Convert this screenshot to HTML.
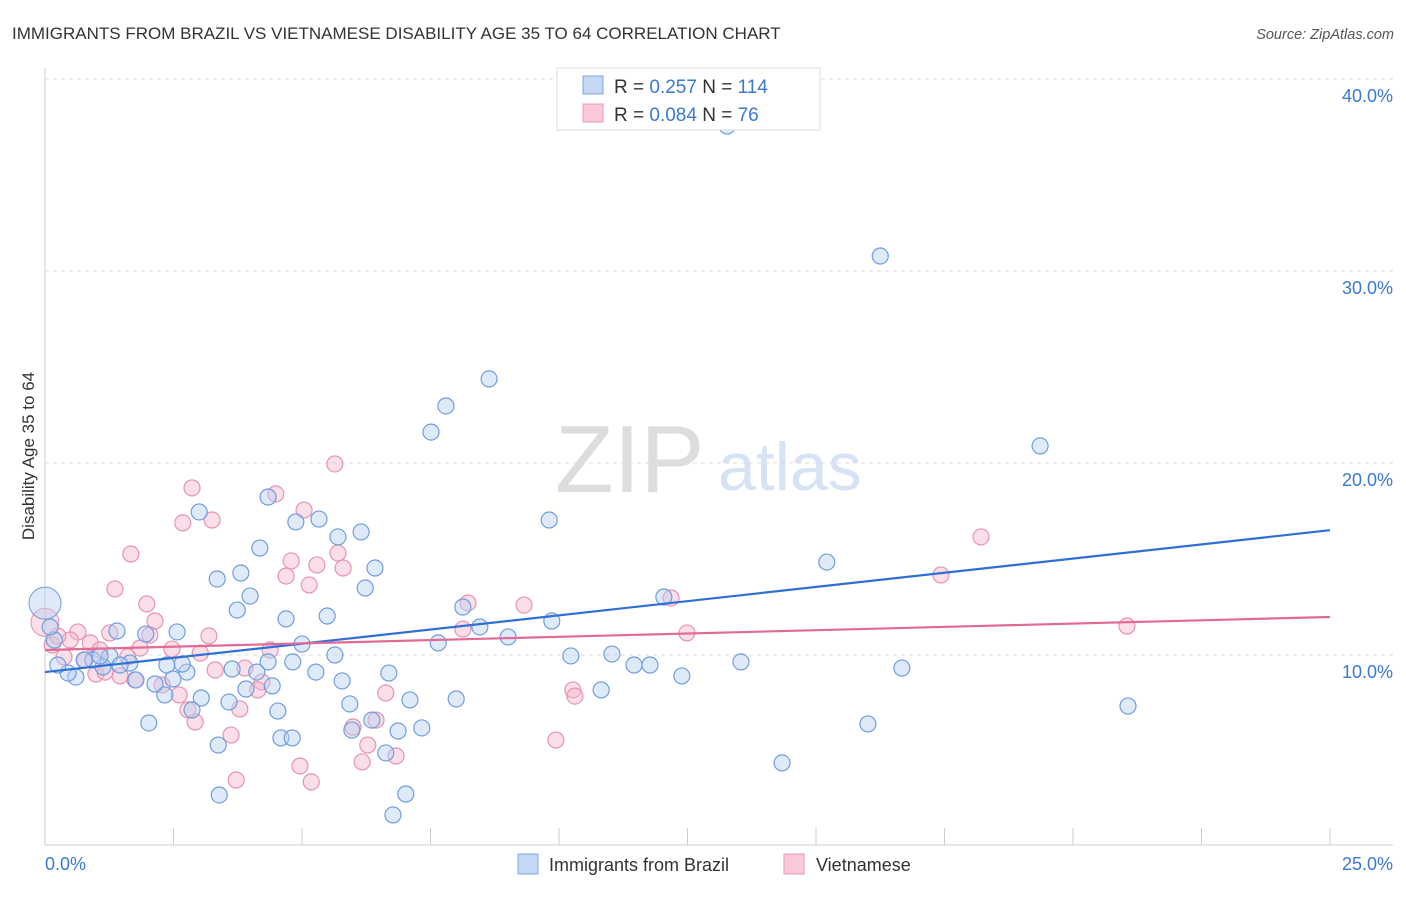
<!DOCTYPE html>
<html><head><meta charset="utf-8"><style>
body{margin:0;background:#fff;font-family:"Liberation Sans",sans-serif;}
svg text{font-family:"Liberation Sans",sans-serif;}
</style></head><body>
<svg id="chart" width="1406" height="892" viewBox="0 0 1406 892">
<text x="12" y="39" font-size="17" fill="#333">IMMIGRANTS FROM BRAZIL VS VIETNAMESE DISABILITY AGE 35 TO 64 CORRELATION CHART</text>
<text x="1394" y="39" font-size="14.5" fill="#555" font-style="italic" text-anchor="end">Source: ZipAtlas.com</text>
<text x="34" y="456" font-size="17" fill="#333" text-anchor="middle" transform="rotate(-90 34 456)">Disability Age 35 to 64</text>
<text x="555" y="492" font-size="96" fill="#ddd" font-family="Liberation Serif">ZIP</text>
<text x="718" y="490" font-size="68" fill="#d6e3f5">atlas</text>
<g id="grid"></g><g id="axes"></g><g id="pink"></g><g id="blue"></g><g id="lines"></g>
<g>
<rect x="557" y="68" width="263" height="62" fill="#fff" stroke="#ddd"/>
<rect x="583" y="76" width="20" height="18" fill="#c5d8f5" stroke="#7ea6e0"/>
<rect x="583" y="104" width="20" height="18" fill="#f9c9d8" stroke="#e999b5"/>
<text x="614" y="93" font-size="19" fill="#333">R = <tspan fill="#3a78d6"> 0.257</tspan>   N = <tspan fill="#3a78d6">114</tspan></text>
<text x="614" y="121" font-size="19" fill="#333">R = <tspan fill="#3a78d6">0.084</tspan>   N = <tspan fill="#3a78d6">  76</tspan></text>
</g>
<g>
<rect x="518" y="854" width="20" height="20" fill="#c5d8f5" stroke="#7ea6e0"/>
<text x="549" y="871" font-size="18" fill="#333">Immigrants from Brazil</text>
<rect x="784" y="854" width="20" height="20" fill="#f9c9d8" stroke="#e999b5"/>
<text x="816" y="871" font-size="18" fill="#333">Vietnamese</text>
</g>
</svg>
<script>
const yTicks=[10,20,30,40];
const yTickLabels=["10.0%","20.0%","30.0%","40.0%"];
const xTickCount=10;
const xLabels=["0.0%","25.0%"];
const blueX=[13.27,16.25,8.64,7.80,7.51,19.36,9.81,3.00,4.34,4.88,5.33,6.15,5.70,4.18,6.42,3.81,3.35,3.99,6.23,3.74,4.69,5.49,8.13,8.46,9.86,12.04,15.21,9.01,7.65,5.00,5.64,10.23,11.03,11.46,11.77,13.54,12.39,16.67,10.82,8.00,7.10,6.69,5.78,5.93,5.27,4.82,4.34,4.12,4.42,3.91,3.64,3.58,3.04,2.76,2.67,2.37,2.49,2.33,2.14,2.57,1.96,1.40,1.26,1.65,1.77,1.13,0.93,0.76,0.60,0.45,0.25,0.18,0.10,2.02,3.37,4.53,4.59,4.81,5.97,6.36,6.87,7.33,6.63,16.01,21.07,14.34,3.39,7.02,6.77,2.86,1.07,1.46];
const blueY=[37.55,30.78,24.38,22.97,21.61,20.89,17.03,17.45,18.23,16.93,17.08,16.41,16.15,15.57,14.53,14.27,13.96,13.07,13.49,12.34,11.88,12.03,12.50,11.46,11.77,13.02,14.84,10.94,10.63,10.57,10.00,9.95,10.05,9.48,9.48,9.64,8.91,9.32,8.18,7.71,7.66,9.06,8.65,7.45,9.11,9.64,9.64,9.11,8.39,8.23,9.27,7.55,7.76,9.11,9.53,9.48,8.75,7.92,8.49,11.20,11.09,11.25,9.95,9.58,8.70,9.38,9.74,9.74,8.85,9.06,9.48,10.78,11.46,6.46,5.31,7.08,5.68,5.68,6.09,6.61,6.04,6.20,4.90,6.41,7.34,4.38,2.71,2.76,1.67,7.14,9.95,9.48];
const pinkX=[5.64,2.86,4.49,2.68,3.25,5.04,1.67,5.70,4.79,5.29,5.80,4.69,5.14,1.36,1.98,2.14,8.23,9.32,12.18,17.43,18.21,12.49,21.05,8.13,3.19,1.26,0.64,0.49,0.88,1.07,1.85,2.04,2.47,3.02,3.31,3.89,4.38,4.22,4.14,3.79,3.62,2.92,2.78,2.61,2.28,6.63,10.27,10.31,6.44,5.99,6.28,6.17,6.83,9.94,4.96,5.18,3.72,1.46,0.99,0.78,0.37,0.14,0.25,1.17,1.61,1.75];
const pinkY=[19.95,18.70,18.39,16.88,17.03,17.55,15.26,15.31,14.90,14.69,14.53,14.11,13.65,13.44,12.66,11.77,12.71,12.60,12.97,14.17,16.15,11.15,11.51,11.35,10.99,11.15,11.20,10.78,10.63,10.26,10.36,11.04,10.31,10.10,9.22,9.32,10.26,8.59,8.18,7.19,5.83,6.51,7.14,7.92,8.44,8.02,8.18,7.86,6.61,6.25,5.31,4.43,4.74,5.57,4.22,3.39,3.49,8.91,9.01,9.74,9.90,10.52,10.99,9.11,9.90,8.70];
const bigBlue=[0.0,12.7];
const bigPink=[0.0,11.7];
const blueTrend=[9.11,16.5];
const pinkTrend=[10.26,11.98];
const xMax=25;
const X=v=>45+v/xMax*1285;
const Y=v=>847-v*19.2;
const NS="http://www.w3.org/2000/svg";
function mk(tag,attrs,parent){const e=document.createElementNS(NS,tag);for(const k in attrs)e.setAttribute(k,attrs[k]);document.getElementById(parent).appendChild(e);return e;}
yTicks.forEach((t,i)=>{
 const l=mk('line',{x1:45,x2:1393,y1:Y(t),y2:Y(t),stroke:'#ddd','stroke-dasharray':'4 4'},'grid');
 
 
 const tx=mk('text',{x:1393,y:Y(t)+23,'font-size':18,fill:'#3a78d6','text-anchor':'end'},'axes');
 tx.textContent=yTickLabels[i];
 
 
});
const ya=mk('line',{x1:45,x2:45,y1:68,y2:845,stroke:'#ccc'},'axes');


const xa=mk('line',{x1:45,x2:1393,y1:845,y2:845,stroke:'#ccc'},'axes');


for(let i=1;i<=xTickCount;i++){
 const v=xMax*i/xTickCount;
 const tk=mk('line',{x1:X(v),x2:X(v),y1:828,y2:845,stroke:'#ccc'},'axes');
 
 
}
[[0,45,'start'],[1,1393,'end']].forEach(([i,x,a])=>{
 const tx=mk('text',{x:x,y:870,'font-size':18,fill:'#3a78d6','text-anchor':a},'axes');
 tx.textContent=xLabels[i];
 
 
});
function pts(xs,ys,g,fill,stroke,name){
 xs.forEach((x,i)=>{
  const c=mk('circle',{cx:X(x),cy:Y(ys[i]),r:8,fill:fill,stroke:stroke,'stroke-width':1.2,'fill-opacity':0.45},g);
  
  
 });
}
pts(pinkX,pinkY,'pink','#f5b8cc','#e892b0','vietnamese-point');
pts(blueX,blueY,'blue','#b9d0f2','#6f9de0','brazil-point');
const bp=mk('circle',{cx:X(bigPink[0]),cy:Y(bigPink[1]),r:14,fill:'#f5b8cc','fill-opacity':0.45,stroke:'#e892b0'},'pink');


const bb=mk('circle',{cx:X(bigBlue[0]),cy:Y(bigBlue[1]),r:16,fill:'#b9d0f2','fill-opacity':0.45,stroke:'#6f9de0'},'blue');


const lb=mk('line',{x1:X(0),x2:X(xMax),y1:Y(blueTrend[0]),y2:Y(blueTrend[1]),stroke:'#2f6fd6','stroke-width':2.2},'lines');


const lp=mk('line',{x1:X(0),x2:X(xMax),y1:Y(pinkTrend[0]),y2:Y(pinkTrend[1]),stroke:'#e26a96','stroke-width':2.2},'lines');


</script>
</body></html>
